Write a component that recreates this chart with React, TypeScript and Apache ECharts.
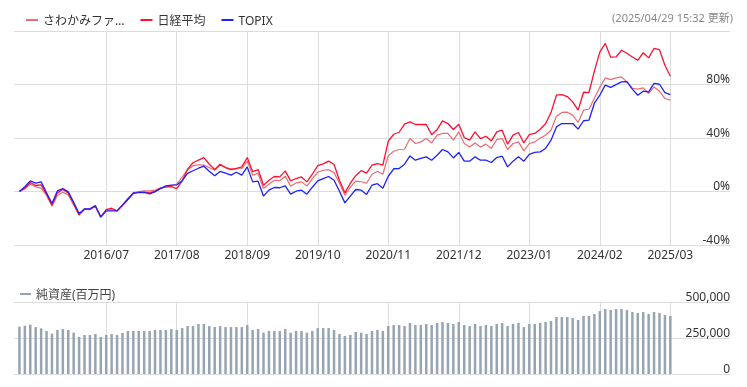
import React, { useEffect, useRef } from 'react';
import * as echarts from 'echarts';

const FONT = "'Noto Sans', 'Noto Sans CJK JP', sans-serif";

// Month categories of the shared x axis: 2015/02 .. 2026/02
const FIRST_YEAR = 2015;
const FIRST_MONTH = 2;
const MONTH_COUNT = 133;
const categories: string[] = [];
for (let k = 0; k < MONTH_COUNT; k++) {
  const m = FIRST_MONTH - 1 + k;
  categories.push(`${FIRST_YEAR + Math.floor(m / 12)}/${String((m % 12) + 1).padStart(2, '0')}`);
}
const DATA_START = '2015/03';

const tickLabels = ['2016/07', '2017/08', '2018/09', '2019/10', '2020/11', '2021/12', '2023/01', '2024/02', '2025/03'];

const sawakami = [
  0, 2.0, 5.5, 3.5, 2.5, -3.0, -11.0, -3.0, -0.5, -2.5,
  -10.0, -17.5, -13.5, -13.0, -11.0, -19.0, -14.0, -13.5, -14.5, -10.0,
  -5.0, -1.0, 0.0, 0.5, 0.5, 1.0, 2.5, 3.5, 4.5, 5.5,
  10.7, 16.3, 19.3, 20.0, 19.7, 17.8, 15.9, 19.7, 17.9, 17.0,
  17.0, 17.2, 22.9, 12.2, 13.5, 2.2, 5.5, 8.4, 8.1, 11.4,
  4.0, 6.4, 7.2, 4.0, 9.6, 14.4, 15.9, 16.3, 14.1, 6.2,
  -2.8, 3.2, 7.7, 7.3, 6.2, 12.9, 15.2, 12.9, 26.8, 30.1,
  31.4, 31.6, 39.6, 35.9, 37.1, 39.6, 36.3, 42.1, 43.4, 43.4,
  38.4, 44.6, 35.9, 33.3, 36.3, 33.3, 35.4, 32.2, 38.9, 39.6,
  31.4, 35.9, 37.1, 30.4, 35.9, 37.1, 39.9, 42.1, 45.8, 56.3,
  59.1, 59.3, 57.1, 51.6, 60.8, 61.5, 69.8, 78.0, 84.9, 83.7,
  84.9, 85.7, 81.9, 77.2, 76.5, 77.5, 73.3, 78.2, 75.0, 69.5,
  68.3,
];

const nikkei = [
  0, 2.5, 6.7, 4.5, 5.0, -2.0, -10.0, -1.0, 1.5, -1.0,
  -9.0, -17.5, -13.0, -13.5, -11.0, -19.0, -13.5, -12.5, -14.5, -10.5,
  -6.0, -1.5, -0.5, -0.5, -1.0, 0.0, 2.5, 3.5, 3.6, 2.2,
  7.7, 16.7, 21.5, 23.4, 25.3, 20.4, 16.4, 20.4, 17.9, 16.4,
  17.2, 18.4, 25.4, 14.8, 16.4, 4.7, 8.4, 11.2, 10.9, 15.4,
  7.9, 9.7, 10.9, 7.2, 12.9, 19.3, 20.6, 22.7, 20.2, 8.4,
  -1.0, 6.2, 11.8, 15.6, 13.8, 19.7, 20.8, 19.7, 37.6, 42.8,
  44.3, 50.3, 52.0, 50.1, 50.1, 50.1, 42.5, 46.2, 52.8, 50.8,
  46.4, 50.3, 40.4, 38.4, 44.6, 39.6, 41.3, 37.8, 44.6, 45.8,
  35.4, 42.1, 44.1, 36.3, 42.6, 43.4, 46.6, 50.7, 59.0, 72.0,
  72.5, 71.0, 67.0, 60.8, 74.2, 74.0, 90.0, 104.2, 110.7, 100.4,
  100.6, 105.6, 103.4, 100.6, 98.1, 103.8, 99.9, 107.1, 106.0, 94.4,
  86.2,
];

const topix = [
  0, 3.6, 7.9, 6.2, 7.2, -0.9, -9.0, 0.4, 2.2, -0.3,
  -8.0, -16.4, -13.0, -13.0, -10.5, -19.2, -14.5, -14.5, -14.5, -10.2,
  -5.8, -1.0, -0.9, -0.7, -1.8, -0.1, 2.1, 4.2, 4.7, 4.9,
  8.1, 13.5, 15.5, 17.4, 18.9, 15.2, 11.7, 15.0, 13.7, 12.2,
  14.4, 12.2, 18.4, 7.2, 7.7, -3.5, 1.0, 3.0, 2.8, 4.2,
  -2.0, 0.2, 1.0, -2.0, 3.2, 7.9, 9.6, 11.2, 8.4, 0.2,
  -8.5, -3.5, 1.5, 1.0, -2.2, 4.7, 5.8, 2.5, 11.4, 17.0,
  17.2, 20.4, 26.6, 23.4, 24.7, 25.9, 23.4, 27.1, 31.4, 29.6,
  25.1, 29.2, 22.7, 22.7, 25.9, 23.4, 23.4, 21.7, 25.4, 26.4,
  18.4, 22.7, 25.9, 22.7, 27.7, 29.2, 29.6, 32.2, 38.4, 48.3,
  50.8, 50.8, 50.8, 46.6, 52.9, 53.3, 66.0, 72.0, 79.5, 77.8,
  79.9, 82.0, 82.1, 76.5, 72.0, 75.0, 74.5, 80.8, 80.2, 74.0,
  72.5,
];

// 純資産 (百万円)
const netAssets = [
  329000, 336000, 343000, 326000, 317000, 299000, 280000, 306000, 312000, 306000,
  287000, 257000, 271000, 271000, 278000, 257000, 271000, 278000, 271000, 285000,
  299000, 299000, 299000, 299000, 299000, 306000, 306000, 306000, 312000, 306000,
  319000, 333000, 333000, 347000, 347000, 333000, 326000, 333000, 326000, 326000,
  326000, 326000, 340000, 306000, 312000, 287000, 299000, 299000, 299000, 312000,
  287000, 299000, 299000, 287000, 299000, 319000, 319000, 319000, 306000, 278000,
  264000, 271000, 292000, 287000, 278000, 299000, 306000, 299000, 333000, 340000,
  340000, 333000, 354000, 340000, 340000, 347000, 340000, 354000, 361000, 354000,
  347000, 361000, 340000, 333000, 347000, 333000, 340000, 333000, 347000, 354000,
  333000, 347000, 354000, 326000, 347000, 347000, 354000, 361000, 368000, 396000,
  396000, 396000, 389000, 375000, 403000, 403000, 417000, 437000, 451000, 444000,
  451000, 451000, 444000, 431000, 424000, 431000, 417000, 431000, 424000, 410000,
  403000,
];

const yTicksPct = { min: -40, max: 120, interval: 40 };
const yTicksAssets = { min: 0, max: 500000, interval: 250000 };

const offset = categories.indexOf(DATA_START);
const align = (arr: number[]) =>
  categories.map((_, k) => {
    const j = k - offset;
    return j >= 0 && j < arr.length ? arr[j] : null;
  });

const isTick = (_i: number, v: string) => tickLabels.includes(v);

const GRID_COLOR = '#dcdcdc';

export default function App() {
  const ref = useRef<HTMLDivElement>(null);
  useEffect(() => {
    if (!ref.current) return;
    const chart = echarts.init(ref.current, undefined, { renderer: 'svg' });
    const xBase = {
      type: 'category' as const,
      data: categories,
      boundaryGap: false,
      axisLine: { show: false },
      axisTick: { show: false },
      splitLine: { show: true, interval: isTick, lineStyle: { color: GRID_COLOR, width: 1 } },
    };
    chart.setOption({
      animation: false,
      textStyle: { fontFamily: FONT },
      legend: [
        {
          top: 9,
          left: 21,
          icon: 'rect',
          itemWidth: 12,
          itemHeight: 2,
          itemGap: 16,
          textStyle: { fontSize: 12, color: '#333', fontFamily: FONT },
          data: [
            { name: 'さわかみファンド', textStyle: { width: 94, overflow: 'truncate', ellipsis: '…' } },
            { name: '日経平均' },
            { name: 'TOPIX' },
          ],
        },
        {
          top: 283,
          left: 15,
          icon: 'rect',
          itemWidth: 11,
          itemHeight: 2,
          textStyle: { fontSize: 12, color: '#444', fontFamily: FONT },
          data: ['純資産(百万円)'],
        },
      ],
      graphic: [
        {
          type: 'text',
          right: 14,
          top: 12,
          style: { text: '(2025/04/29 15:32 更新)', fill: '#888', fontSize: 11, fontFamily: FONT },
        },
      ],
      grid: [
        { left: 14, right: 17, top: 31, height: 214 },
        { left: 14, right: 17, top: 302, height: 72 },
      ],
      xAxis: [
        {
          ...xBase,
          gridIndex: 0,
          axisLabel: { interval: isTick, color: '#333', fontSize: 12, margin: 3, fontFamily: FONT },
        },
        {
          ...xBase,
          gridIndex: 1,
          axisLabel: { show: false },
        },
      ],
      yAxis: [
        {
          type: 'value',
          gridIndex: 0,
          position: 'right',
          ...yTicksPct,
          axisLine: { show: false },
          axisTick: { show: false },
          splitLine: { show: true, lineStyle: { color: GRID_COLOR, width: 1 } },
          axisLabel: {
            inside: true,
            margin: 0,
            verticalAlign: 'bottom',
            color: '#333',
            fontSize: 12,
            fontFamily: FONT,
            formatter: (v: number) => (v === yTicksPct.max ? '' : `${v}%`),
          },
        },
        {
          type: 'value',
          gridIndex: 1,
          position: 'right',
          ...yTicksAssets,
          axisLine: { show: false },
          axisTick: { show: false },
          splitLine: { show: true, lineStyle: { color: GRID_COLOR, width: 1 } },
          axisLabel: {
            inside: true,
            margin: 0,
            verticalAlign: 'bottom',
            color: '#333',
            fontSize: 12,
            fontFamily: FONT,
            formatter: (v: number) => v.toLocaleString('en-US'),
          },
        },
      ],
      series: [
        {
          name: 'さわかみファンド',
          type: 'line',
          xAxisIndex: 0,
          yAxisIndex: 0,
          data: align(sawakami),
          symbol: 'none',
          color: '#ec6b73',
          lineStyle: { width: 1.2, color: '#ec6b73' },
        },
        {
          name: '日経平均',
          type: 'line',
          xAxisIndex: 0,
          yAxisIndex: 0,
          data: align(nikkei),
          symbol: 'none',
          color: '#ff1030',
          lineStyle: { width: 1.3, color: '#ff1030' },
        },
        {
          name: 'TOPIX',
          type: 'line',
          xAxisIndex: 0,
          yAxisIndex: 0,
          data: align(topix),
          symbol: 'none',
          color: '#2020ff',
          lineStyle: { width: 1.3, color: '#2020ff' },
        },
        {
          name: '純資産(百万円)',
          type: 'bar',
          xAxisIndex: 1,
          yAxisIndex: 1,
          data: align(netAssets),
          barWidth: 2.5,
          color: '#97a4b1',
          itemStyle: { color: '#97a4b1' },
        },
      ],
    });
    return () => chart.dispose();
  }, []);
  return <div ref={ref} style={{ position: 'fixed', left: 0, top: 0, width: 747, height: 387 }} />;
}
